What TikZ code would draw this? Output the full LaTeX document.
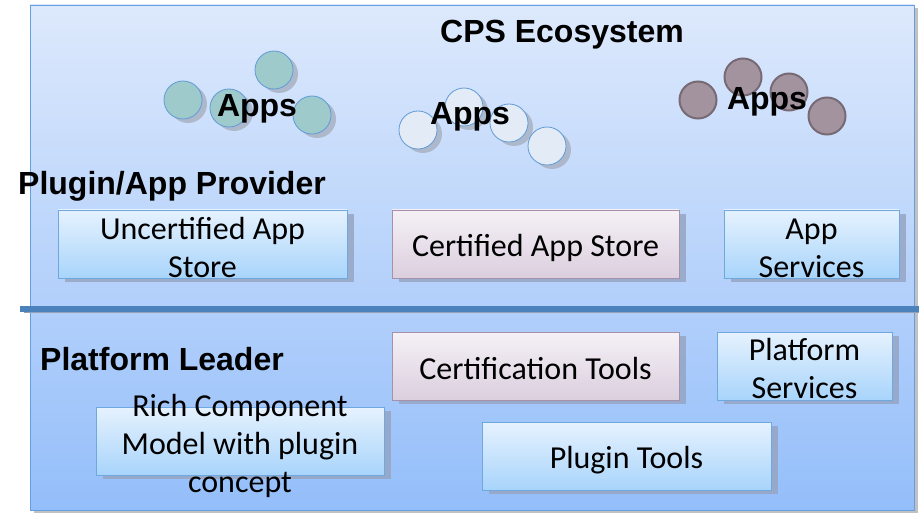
\documentclass[tikz,border=0pt]{standalone}
\usepackage{fontspec}
\setmainfont{Carlito}
\newfontfamily\headfont{Liberation Sans}
\usetikzlibrary{shadows}
\definecolor{frameTop}{RGB}{221,233,252}
\definecolor{frameBot}{RGB}{148,190,250}
\definecolor{frameLine}{RGB}{100,160,225}
\definecolor{boxTop}{RGB}{230,242,254}
\definecolor{boxBot}{RGB}{168,212,251}
\definecolor{boxLine}{RGB}{110,168,222}
\definecolor{pinkTop}{RGB}{245,241,246}
\definecolor{pinkBot}{RGB}{219,207,222}
\definecolor{pinkLine}{RGB}{165,145,170}
\definecolor{shade}{RGB}{150,165,195}
\definecolor{sepc}{RGB}{76,130,188}
\definecolor{sepshade}{RGB}{150,160,180}
\definecolor{tealc}{RGB}{158,202,204}
\definecolor{palec}{RGB}{227,236,246}
\definecolor{mauvec}{RGB}{162,147,159}
\definecolor{mauveline}{RGB}{120,106,117}
\definecolor{circline}{RGB}{95,155,215}
\definecolor{circshade}{RGB}{170,180,198}
\begin{document}
\begin{tikzpicture}[x=1pt,y=-1pt,
  framebox/.style={draw=frameLine, line width=0.8pt, top color=frameTop, bottom color=frameBot,
    minimum width=884pt, minimum height=505pt, inner sep=0pt,
    drop shadow={shadow xshift=4pt, shadow yshift=-3pt, fill=black!30, opacity=0.8}},
  bluebox/.style={draw=boxLine, line width=0.8pt, top color=boxTop, bottom color=boxBot,
    minimum height=68pt, inner sep=0pt,
    drop shadow={shadow xshift=7pt, shadow yshift=-4pt, fill=shade, opacity=0.85}},
  pinkbox/.style={draw=pinkLine, line width=0.8pt, top color=pinkTop, bottom color=pinkBot,
    minimum height=68pt, inner sep=0pt,
    drop shadow={shadow xshift=7pt, shadow yshift=-4pt, fill=shade, opacity=0.85}},
  boxtext/.style={font=\fontsize{32}{38}\selectfont, align=center, inner sep=0pt, text=black},
  headtext/.style={font=\headfont\bfseries\fontsize{32}{38}\selectfont, inner sep=0pt, text=black},
  appcircA/.style={circle, draw=circline, line width=0.8pt, fill=tealc, minimum size=38pt, inner sep=0pt,
    drop shadow={shadow xshift=5pt, shadow yshift=-4pt, fill=circshade, opacity=0.9}},
  appcircB/.style={circle, draw=circline, line width=0.8pt, fill=palec, minimum size=38pt, inner sep=0pt,
    drop shadow={shadow xshift=5pt, shadow yshift=-4pt, fill=circshade, opacity=0.9}},
  appcircC/.style={circle, draw=mauveline, line width=2pt, fill=mauvec, minimum size=37pt, inner sep=0pt}
]
\useasboundingbox (0,0) rectangle (919,513);
% frame
\node[framebox] (frame) at (472,257.5) {};
% separator
\coordinate (sepL) at (20,309);
\coordinate (sepR) at (919,309);
\coordinate (sepLs) at (24,312);
\coordinate (sepRs) at (919,312);
\draw[sepshade, line width=3pt] (sepLs) -- (sepRs);
\draw[sepc, line width=6pt] (sepL) -- (sepR);
% headings
\node[headtext] (cps) at (562,35) {CPS Ecosystem};
\node[headtext, anchor=west] (prov) at (18,186) {Plugin/App Provider};
\node[headtext, anchor=west] (lead) at (40,359) {Platform Leader};
% app group 1
\node[appcircA] (a1) at (183,100) {};
\node[appcircA] (a2) at (229,108) {};
\node[appcircA] (a3) at (274,70) {};
\node[appcircA] (a4) at (312,115) {};
\node[headtext] (apps1) at (257,109) {Apps};
% app group 2
\node[appcircB] (b1) at (418,130) {};
\node[appcircB] (b2) at (464,107) {};
\node[appcircB] (b3) at (509,123) {};
\node[appcircB] (b4) at (547,146) {};
\node[headtext] (apps2) at (470,117) {Apps};
% app group 3
\node[appcircC] (c1) at (698,100) {};
\node[appcircC] (c2) at (743,77) {};
\node[appcircC] (c3) at (789,92) {};
\node[appcircC] (c4) at (827,116) {};
\node[headtext] (apps3) at (767,102) {Apps};
% boxes
\node[bluebox, minimum width=289pt] (unc) at (202.5,244) {};
\node[boxtext] (unct) at ([yshift=-4pt]unc.center) {Uncertified App\\Store};
\node[pinkbox, minimum width=287pt] (cas) at (535.5,244) {};
\node[boxtext] (cast) at ([yshift=-4pt]cas.center) {Certified App Store};
\node[bluebox, minimum width=175pt] (aps) at (811.5,244) {};
\node[boxtext] (apst) at ([yshift=-4pt]aps.center) {App\\Services};
\node[pinkbox, minimum width=287pt] (ct) at (535.5,366) {};
\node[boxtext] (ctt) at ([yshift=-3pt]ct.center) {Certification Tools};
\node[bluebox, minimum width=175pt] (ps) at (804.5,366) {};
\node[boxtext] (pst) at ([yshift=-3pt]ps.center) {Platform\\Services};
\node[bluebox, minimum width=288pt] (rcm) at (240,441) {};
\node[boxtext] (rcmt) at ([yshift=-5pt]rcm.center) {Rich Component\\Model with plugin\\concept};
\node[bluebox, minimum width=289pt] (pt) at (626.5,456) {};
\node[boxtext] (ptt) at ([yshift=-4pt]pt.center) {Plugin Tools};
\end{tikzpicture}
\end{document}
